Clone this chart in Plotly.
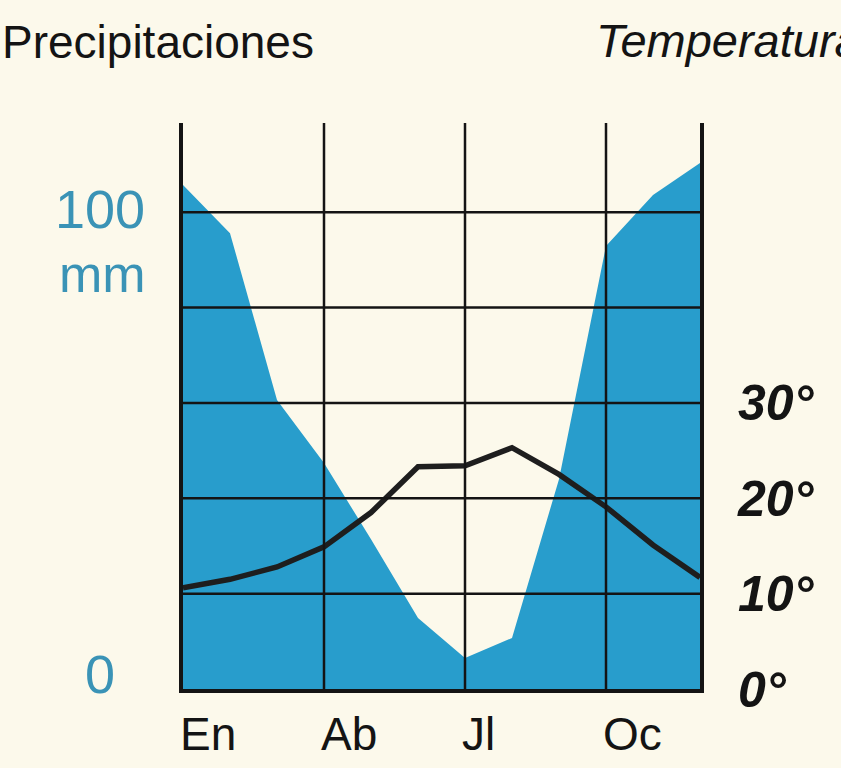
import plotly.graph_objects as go

# monthly climate data (Jan..Dec)
month_idx = list(range(12))
precip_mm = [105.7, 95.6, 60.6, 47.4, 31.4, 14.9, 6.5, 10.7, 44.0, 92.9, 103.6, 110.3]
temp_c = [10.6, 11.5, 12.8, 14.9, 18.5, 23.3, 23.4, 25.3, 22.5, 19.1, 15.1, 11.7]

label_months = [0, 3, 6, 9]
month_labels = ["En", "Ab", "Jl", "Oc"]
precip_grid = [20, 40, 60, 80, 100]
precip_labels = [0, 100]
temp_ticks = [0, 10, 20, 30]

W, H = 841, 768
L, R, T, B = 183, 141, 123, 79
PW, PH = W - L - R, H - T - B
YMAX = 118.7  # mm at top of plot; temperature axis is half of it (P = 2T)

BLUE = "#289dcc"
LABEL_BLUE = "#3a93b6"
INK = "#141414"
BG = "#fcf9eb"
FONT = "Liberation Sans"


def px_x(p):
    return (p - L) / PW


def px_y(p):
    return (H - B - p) / PH


fig = go.Figure()

fig.add_trace(go.Scatter(
    x=month_idx, y=precip_mm, mode="lines", fill="tozeroy",
    line=dict(width=0, color=BLUE), fillcolor=BLUE, hoverinfo="skip",
))
fig.add_trace(go.Scatter(
    x=month_idx, y=temp_c, yaxis="y2", mode="lines",
    line=dict(color="#1e1e1e", width=5.5), hoverinfo="skip",
))

# grid drawn above the fill, like the printed chart
shapes = []
for g in precip_grid:
    shapes.append(dict(type="line", xref="x", yref="y", x0=0, x1=11, y0=g, y1=g,
                       line=dict(color=INK, width=2.5), layer="above"))
for m in label_months[1:]:
    shapes.append(dict(type="line", xref="x", yref="paper", x0=m, x1=m, y0=0, y1=1,
                       line=dict(color=INK, width=2.5), layer="above"))

annotations = []
for m, lab in zip(label_months, month_labels):
    annotations.append(dict(
        x=m, y=0, xref="x", yref="y", text=lab, showarrow=False,
        xanchor="left", yanchor="top", xshift=-5, yshift=-17,
        font=dict(family=FONT, size=46, color=INK),
    ))
for v in precip_labels:
    annotations.append(dict(
        x=px_x(100), y=v, xref="paper", yref="y", text=str(v), showarrow=False,
        xanchor="center", yanchor="middle", yshift=3 if v else 15,
        font=dict(family=FONT, size=54, color=LABEL_BLUE),
    ))
annotations.append(dict(
    x=px_x(102), y=100, xref="paper", yref="y", text="mm", showarrow=False,
    xanchor="center", yanchor="middle", yshift=-62,
    font=dict(family=FONT, size=52, color=LABEL_BLUE),
))
annotations.append(dict(
    x=px_x(0), y=px_y(42), xref="paper", yref="paper", text="Precipitaciones",
    showarrow=False, xanchor="left", yanchor="middle",
    font=dict(family=FONT, size=46, color=INK),
))
annotations.append(dict(
    x=px_x(594), y=px_y(40), xref="paper", yref="paper", text="Temperatura",
    showarrow=False, xanchor="left", yanchor="middle",
    font=dict(family=FONT, size=47, color=INK, style="italic"),
))

fig.update_layout(
    width=W, height=H, autosize=False,
    margin=dict(l=L, r=R, t=T, b=B),
    paper_bgcolor=BG, plot_bgcolor=BG,
    showlegend=False,
    shapes=shapes, annotations=annotations,
    xaxis=dict(range=[0, 11], showgrid=False, zeroline=False, showticklabels=False,
               showline=True, linewidth=4, linecolor=INK, layer="above traces", ticks=""),
    yaxis=dict(range=[0, YMAX], showgrid=False, zeroline=False, showticklabels=False,
               showline=True, linewidth=4, linecolor=INK, layer="above traces", ticks=""),
    yaxis2=dict(range=[0, YMAX / 2], overlaying="y", side="right",
                showgrid=False, zeroline=False, showline=True, linewidth=4, linecolor=INK,
                layer="above traces", ticks="",
                tickvals=temp_ticks, ticktext=[f"{t}°" for t in temp_ticks],
                ticklabelstandoff=24,
                tickfont=dict(family=FONT, size=50, color=INK, weight="bold", style="italic")),
)

# page has a default 8px body margin; drop it so the figure sits at the corner
fig.write_html("out.html", config={"displayModeBar": False},
               post_script="document.body.style.margin='0';")
